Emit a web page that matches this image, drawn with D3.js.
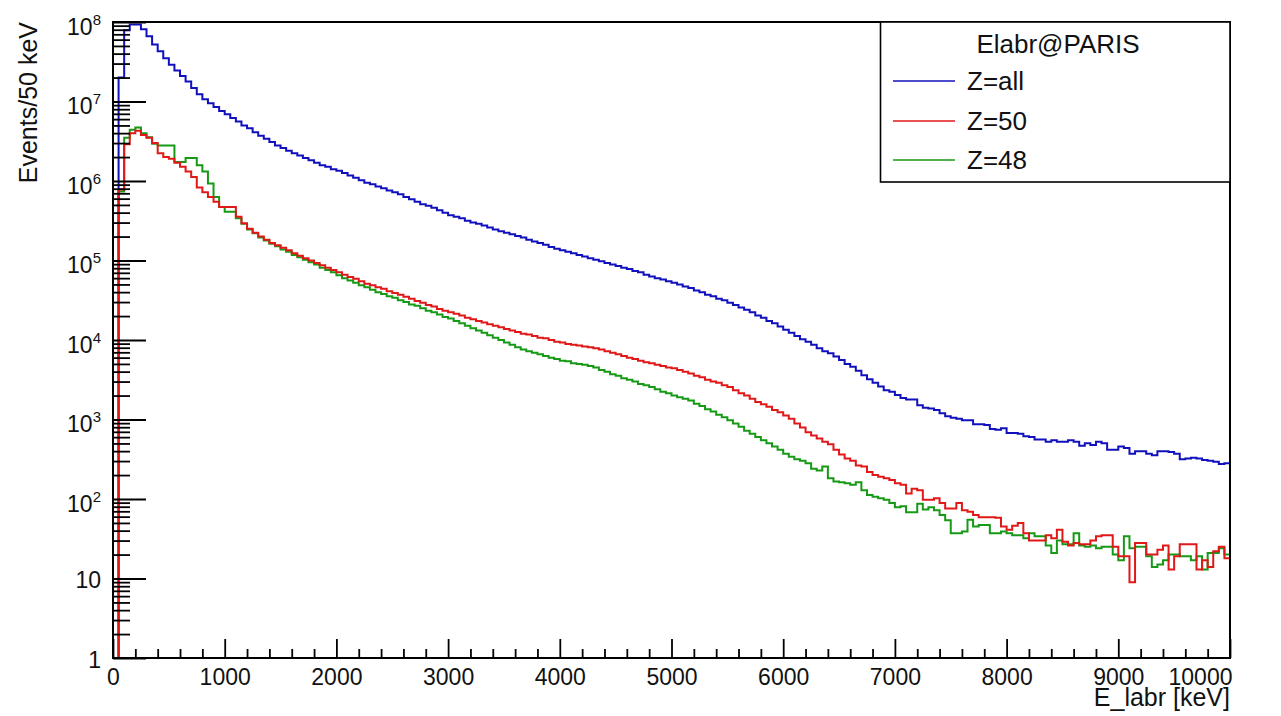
<!DOCTYPE html>
<html>
<head>
<meta charset="utf-8">
<script src="https://cdn.jsdelivr.net/npm/d3@7"></script>
<style>
  html, body { margin: 0; padding: 0; background: #fff; }
  svg { display: block; font-family: "Liberation Sans", Arial, sans-serif; }
</style>
</head>
<body>
<svg id="chart" width="1281" height="716"></svg>
<script>
// Energy spectra measured in the LaBr3 crystals of PARIS, 50 keV bins from 0 to 10 MeV.
const binWidth = 50;
const binLow = d3.range(0, 10000, binWidth);

// Counts per bin, all fragments
const zAll = [
  0, 2.0e7, 7.9e7, 9.3e7, 9.3e7, 8.1e7, 6.6e7, 5.2e7, 4.3e7, 3.5e7,
  2.9e7, 2.45e7, 2.1e7, 1.78e7, 1.48e7, 1.23e7, 1.07e7, 9.5e6, 8.5e6, 7.6e6,
  6.9e6, 6.2e6, 5.6e6, 5.0e6, 4.6e6, 4.1e6, 3.7e6, 3.4e6, 3.1e6, 2.8e6,
  2.6e6, 2.4e6, 2.24e6, 2.1e6, 1.95e6, 1.82e6, 1.7e6, 1.58e6, 1.51e6, 1.41e6,
  1.35e6, 1.26e6, 1.17e6, 1.1e6, 1.02e6, 9.5e5, 9.1e5, 8.5e5, 8.1e5, 7.6e5,
  7.2e5, 6.8e5, 6.3e5, 5.9e5, 5.5e5, 5.1e5, 4.9e5, 4.6e5, 4.3e5, 4.0e5,
  3.7e5, 3.55e5, 3.4e5, 3.16e5, 3.0e5, 2.9e5, 2.75e5, 2.6e5, 2.45e5, 2.34e5,
  2.24e5, 2.14e5, 2.04e5, 1.95e5, 1.82e5, 1.74e5, 1.66e5, 1.58e5, 1.48e5, 1.41e5,
  1.35e5, 1.29e5, 1.23e5, 1.17e5, 1.12e5, 1.07e5, 1.02e5, 9.8e4, 9.3e4, 8.9e4,
  8.5e4, 8.1e4, 7.8e4, 7.4e4, 7.1e4, 6.6e4, 6.3e4, 6.0e4, 5.75e4, 5.5e4,
  5.25e4, 5.0e4, 4.7e4, 4.5e4, 4.2e4, 4.0e4, 3.7e4, 3.55e4, 3.3e4, 3.16e4,
  2.95e4, 2.75e4, 2.57e4, 2.4e4, 2.24e4, 2.04e4, 1.9e4, 1.74e4, 1.62e4, 1.48e4,
  1.35e4, 1.23e4, 1.12e4, 1.02e4, 9500, 8700, 7900, 7200, 6800, 6200,
  5600, 5000, 4600, 4100, 3600, 3200, 2900, 2600, 2340, 2240,
  2040, 1860, 1780, 1780, 1510, 1410, 1380, 1320, 1200, 1100,
  1050, 1020, 977, 977, 871, 871, 851, 759, 741, 776,
  676, 676, 661, 617, 603, 562, 562, 525, 550, 525,
  525, 550, 525, 468, 501, 479, 525, 501, 417, 417,
  457, 437, 372, 398, 398, 372, 355, 398, 398, 389,
  372, 316, 324, 331, 324, 309, 302, 295, 275, 282
];

// Counts per bin, Z = 50
const z50 = [
  0, 7.8e5, 2.9e6, 4.0e6, 4.3e6, 3.8e6, 3.5e6, 3.0e6, 2.24e6, 2.0e6,
  1.9e6, 1.7e6, 1.51e6, 1.32e6, 1.12e6, 8.3e5, 7.2e5, 6.3e5, 5.5e5, 4.7e5,
  4.7e5, 4.7e5, 3.55e5, 2.95e5, 2.5e5, 2.24e5, 2.0e5, 1.82e5, 1.66e5, 1.55e5,
  1.45e5, 1.35e5, 1.23e5, 1.15e5, 1.07e5, 1.0e5, 9.3e4, 8.7e4, 8.1e4, 7.6e4,
  7.1e4, 6.6e4, 6.2e4, 5.9e4, 5.5e4, 5.1e4, 4.9e4, 4.6e4, 4.4e4, 4.1e4,
  3.9e4, 3.7e4, 3.5e4, 3.3e4, 3.1e4, 2.95e4, 2.75e4, 2.63e4, 2.45e4, 2.34e4,
  2.24e4, 2.14e4, 2.04e4, 1.91e4, 1.82e4, 1.74e4, 1.66e4, 1.58e4, 1.51e4, 1.45e4,
  1.38e4, 1.32e4, 1.26e4, 1.2e4, 1.17e4, 1.12e4, 1.07e4, 1.05e4, 1.0e4, 9500,
  9300, 8900, 8700, 8500, 8300, 8100, 7900, 7600, 7200, 6900,
  6600, 6300, 6000, 5750, 5500, 5250, 5100, 4900, 4700, 4500,
  4400, 4200, 4000, 3800, 3550, 3400, 3160, 3000, 2900, 2700,
  2570, 2340, 2140, 2000, 1820, 1660, 1550, 1450, 1320, 1230,
  1120, 1020, 891, 794, 692, 631, 575, 525, 490, 417,
  363, 324, 302, 263, 257, 219, 200, 191, 182, 174,
  158, 151, 117, 135, 129, 98, 98, 102, 89, 76,
  76, 89, 72, 69, 63, 59, 59, 59, 58, 45,
  41, 46, 50, 37, 30, 30, 30, 35, 32, 41,
  29, 26, 28, 27, 27, 30, 34, 35, 35, 25,
  19, 19, 9, 28, 28, 20, 20, 23, 26, 13,
  19, 27, 27, 27, 13, 17, 14, 22, 25, 18
];

// Counts per bin, Z = 48
const z48 = [
  0, 7.4e5, 3.5e6, 4.4e6, 4.7e6, 4.0e6, 3.55e6, 2.95e6, 2.8e6, 2.8e6,
  2.8e6, 1.74e6, 1.74e6, 1.95e6, 1.95e6, 1.58e6, 1.32e6, 9.3e5, 6.3e5, 4.7e5,
  4.1e5, 4.1e5, 3.4e5, 2.9e5, 2.45e5, 2.2e5, 1.95e5, 1.78e5, 1.62e5, 1.51e5,
  1.38e5, 1.29e5, 1.17e5, 1.1e5, 1.02e5, 9.5e4, 8.9e4, 8.1e4, 7.6e4, 7.1e4,
  6.5e4, 6.0e4, 5.6e4, 5.25e4, 4.9e4, 4.6e4, 4.3e4, 4.0e4, 3.8e4, 3.55e4,
  3.4e4, 3.16e4, 3.0e4, 2.8e4, 2.7e4, 2.5e4, 2.34e4, 2.24e4, 2.1e4, 1.95e4,
  1.86e4, 1.74e4, 1.62e4, 1.51e4, 1.41e4, 1.32e4, 1.23e4, 1.15e4, 1.07e4, 1.0e4,
  9300, 8700, 8100, 7600, 7200, 6900, 6600, 6300, 6000, 5750,
  5500, 5400, 5100, 5000, 4900, 4700, 4500, 4200, 4000, 3700,
  3550, 3300, 3160, 3000, 2800, 2700, 2570, 2400, 2240, 2140,
  2000, 1900, 1820, 1740, 1580, 1480, 1350, 1260, 1150, 1070,
  977, 891, 813, 724, 661, 603, 550, 501, 457, 417,
  372, 339, 316, 302, 282, 240, 229, 257, 182, 166,
  162, 158, 151, 162, 129, 112, 107, 102, 98, 89,
  79, 81, 68, 68, 87, 74, 79, 72, 63, 54,
  37, 37, 39, 55, 45, 47, 47, 37, 37, 39,
  37, 35, 35, 32, 37, 34, 34, 26, 21, 30,
  27, 27, 37, 26, 25, 26, 24, 25, 25, 20,
  17, 34, 24, 25, 25, 19, 14, 15, 17, 20,
  20, 19, 19, 17, 19, 13, 21, 21, 24, 20
];

const seriesNames = ["Z=all", "Z=50", "Z=48"];
const seriesColors = ["#1010bc", "#e01818", "#169a16"];
const legendTitle = "Elabr@PARIS";
const xTitle = "E_labr [keV]";
const yTitle = "Events/50 keV";
const xMajor = d3.range(0, 10001, 1000);
const yDecades = d3.range(0, 9).map(e => Math.pow(10, e));

// ---- layout ----
const svg = d3.select("#chart");
const L = 113, R = 1230, T = 22, B = 658;
const x = d3.scaleLinear().domain([0, 10000]).range([L, R]);
const y = d3.scaleLog().domain([1, 1e8]).range([B, T]);

// ---- histograms (drawn as steps) ----
svg.append("clipPath").attr("id", "plotclip")
  .append("rect").attr("x", L).attr("y", T).attr("width", R - L).attr("height", B - T);

const stepLine = d3.line();
function stepPoints(vals) {
  const pts = [];
  vals.forEach((v, i) => {
    const yy = v >= 1 ? y(v) : B;
    pts.push([x(binLow[i]), yy], [x(binLow[i] + binWidth), yy]);
  });
  return pts;
}
const plotG = svg.append("g").attr("clip-path", "url(#plotclip)");
const drawOrder = [[zAll, 0], [z48, 2], [z50, 1]];
drawOrder.forEach(([vals, k]) => {
  plotG.append("path")
    .attr("d", stepLine(stepPoints(vals)))
    .attr("fill", "none")
    .attr("stroke", seriesColors[k])
    .attr("stroke-width", 2)
    .attr("stroke-linejoin", "miter");
});

// ---- axes: ticks pointing into the frame ----
const axStyle = g => {
  g.selectAll(".domain").remove();
  g.selectAll(".tick line").attr("stroke", "#000").attr("stroke-width", 1.8);
};

const xMinor = d3.range(0, 10001, 200).filter(v => v % 1000 !== 0);
svg.append("g").attr("transform", `translate(0,${B})`)
  .call(d3.axisBottom(x).tickValues(xMinor).tickSizeInner(-9).tickSizeOuter(0).tickFormat(""))
  .call(axStyle);
svg.append("g").attr("transform", `translate(0,${B})`)
  .call(d3.axisBottom(x).tickValues(xMajor).tickSizeInner(-19).tickSizeOuter(0).tickPadding(11)
        .tickFormat(d3.format("d")))
  .call(axStyle)
  .call(g => g.selectAll(".tick text").attr("font-size", 23).attr("fill", "#111")
                .attr("font-family", "Liberation Sans, Arial, sans-serif"))
  // the last label is kept inside the frame's right edge
  .call(g => g.selectAll(".tick").filter(d => d === 10000).select("text")
                .attr("text-anchor", "end").attr("x", 2));

const yMinor = [];
yDecades.slice(0, 8).forEach(d => { for (let m = 2; m <= 9; m++) yMinor.push(d * m); });
svg.append("g").attr("transform", `translate(${L},0)`)
  .call(d3.axisLeft(y).tickValues(yMinor).tickSizeInner(-17).tickSizeOuter(0).tickFormat(""))
  .call(axStyle);
svg.append("g").attr("transform", `translate(${L},0)`)
  .call(d3.axisLeft(y).tickValues(yDecades).tickSizeInner(-33).tickSizeOuter(0).tickFormat(""))
  .call(axStyle);

// decade labels written as powers of ten
const yLab = svg.append("g").attr("font-size", 23).attr("fill", "#111");
yDecades.forEach(d => {
  const e = Math.round(Math.log10(d));
  const t = yLab.append("text").attr("x", 101).attr("text-anchor", "end");
  if (e < 2) {
    t.attr("y", y(d) + 9.5).text(e === 0 ? "1" : "10");
  } else {
    t.attr("y", y(d) + 12.5);
    t.append("tspan").text("10");
    t.append("tspan").attr("font-size", 15).attr("dy", -10).text(String(e));
  }
});

// frame
svg.append("rect").attr("x", L).attr("y", T).attr("width", R - L).attr("height", B - T)
  .attr("fill", "none").attr("stroke", "#000").attr("stroke-width", 2);

// axis titles
svg.append("text").attr("x", R).attr("y", 706).attr("text-anchor", "end")
  .attr("font-size", 25).attr("fill", "#111").text(xTitle);
svg.append("text").attr("transform", `translate(37,${T}) rotate(-90)`)
  .attr("text-anchor", "end").attr("font-size", 25).attr("fill", "#111").text(yTitle);

// ---- legend ----
const lg = svg.append("g");
lg.append("rect").attr("x", 880.5).attr("y", T).attr("width", R - 880.5).attr("height", 182 - T)
  .attr("fill", "#fff").attr("stroke", "#000").attr("stroke-width", 1.6);
lg.append("text").attr("x", 1058).attr("y", 53).attr("text-anchor", "middle")
  .attr("font-size", 26).attr("fill", "#111").text(legendTitle);
const rowY = [81, 121, 160];
seriesNames.forEach((name, k) => {
  lg.append("line").attr("x1", 893).attr("x2", 955).attr("y1", rowY[k]).attr("y2", rowY[k])
    .attr("stroke", seriesColors[k]).attr("stroke-width", 1.6);
  lg.append("text").attr("x", 967).attr("y", rowY[k] + 9).attr("font-size", 26)
    .attr("fill", "#111").text(name);
});
</script>
</body>
</html>
